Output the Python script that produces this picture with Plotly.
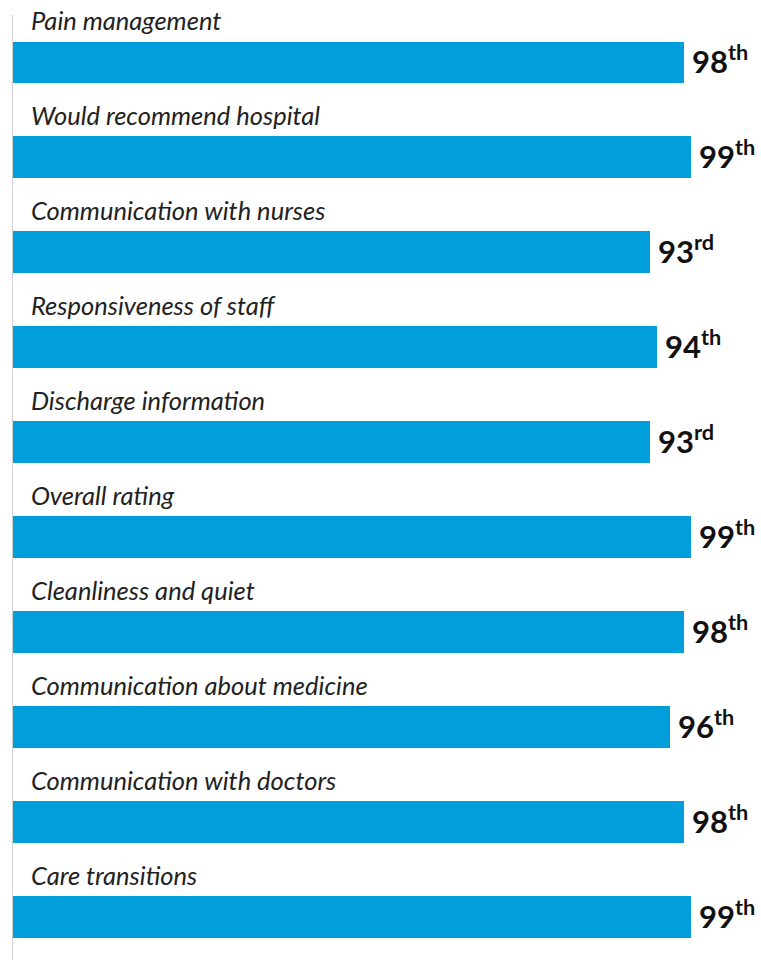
import plotly.graph_objects as go

categories = [
    "Pain management",
    "Would recommend hospital",
    "Communication with nurses",
    "Responsiveness of staff",
    "Discharge information",
    "Overall rating",
    "Cleanliness and quiet",
    "Communication about medicine",
    "Communication with doctors",
    "Care transitions",
]
percentiles = [98, 99, 93, 94, 93, 99, 98, 96, 98, 99]
suffixes = ["th", "th", "rd", "th", "rd", "th", "th", "th", "th", "th"]

BAR_COLOR = "#009FDB"

fig = go.Figure()
fig.add_trace(go.Bar(
    x=percentiles,
    y=categories,
    orientation="h",
    marker=dict(color=BAR_COLOR, line=dict(width=0)),
    width=0.442,
    hoverinfo="skip",
))

annotations = []
for cat, val, suf in zip(categories, percentiles, suffixes):
    annotations.append(dict(
        x=0, y=cat, xref="x", yref="y",
        text=cat, showarrow=False,
        xanchor="left", yanchor="middle",
        xshift=16, yshift=42,
        font=dict(family="Lato", size=25.5, color="#222222", style="italic"),
    ))
    annotations.append(dict(
        x=val, y=cat, xref="x", yref="y",
        text=f"<b>{val}</b><sup><b>{suf}</b></sup>",
        showarrow=False,
        xanchor="left", yanchor="middle",
        xshift=6, yshift=3,
        font=dict(family="Lato", size=31, color="#111111"),
    ))

fig.update_layout(
    width=761, height=960,
    margin=dict(l=13, r=0, t=15, b=0),
    plot_bgcolor="white", paper_bgcolor="white",
    showlegend=False,
    bargap=0,
    annotations=annotations,
    xaxis=dict(range=[0, 748 / 6.848], visible=False, fixedrange=True),
    yaxis=dict(
        categoryorder="array", categoryarray=categories,
        range=[9.45, -0.5],
        showticklabels=False, ticks="",
        showgrid=False, zeroline=False,
        showline=True, linecolor="#D0D0D0", linewidth=1,
        fixedrange=True,
    ),
)

fig.write_html(
    "out.html",
    config={"displayModeBar": False},
    post_script="document.body.style.margin='0';document.body.style.overflow='hidden';",
)
